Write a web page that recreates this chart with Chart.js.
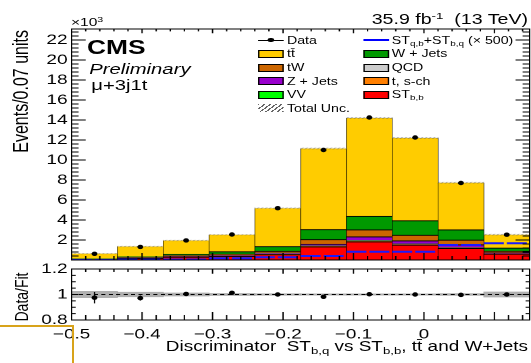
<!DOCTYPE html>
<html>
<head>
<meta charset="utf-8">
<script src="https://cdn.jsdelivr.net/npm/chart.js@4.4.1/dist/chart.umd.min.js"></script>
<style>
html, body { margin: 0; padding: 0; background: #fff; overflow: hidden; }
body { width: 531px; height: 363px; position: relative; font-family: "Liberation Sans", Arial, sans-serif; color: #000; }
/* the reference is stretched sideways, so the plot is drawn narrow and scaled */
#wrap { position: absolute; left: 0; top: 0; width: 393px; height: 363px; transform: scaleX(1.3511); transform-origin: 0 0; }
#top { position: absolute; left: 0; top: 0; }
#bot { position: absolute; left: 0; top: 262px; }
.t { position: absolute; white-space: nowrap; line-height: 1; }
.leg { position: absolute; font-size: 10.5px; line-height: 1; white-space: nowrap; }
.box { position: absolute; width: 17px; height: 6px; border: 1px solid #000; }
sub { font-size: 0.7em; vertical-align: -0.3em; line-height: 0; }
sup { font-size: 0.68em; vertical-align: 0.55em; line-height: 0; }
#gold { position: absolute; left: -3px; top: 325px; width: 73px; height: 45px; border: 2px solid #d8a31a; }
</style>
</head>
<body>
<div id="wrap">
  <canvas id="top" width="393" height="262"></canvas>
  <canvas id="bot" width="393" height="101"></canvas>

  <div class="t" style="left:52.5px; top:17px; font-size:11.5px;">×10<sup>3</sup></div>
  <div class="t" style="right:2.2px; top:11.5px; font-size:14.5px;">35.9 fb<sup>-1</sup>&nbsp; (13 TeV)</div>
  <div class="t" style="left:64.4px; top:37.5px; font-size:19.5px; font-weight:bold;">CMS</div>
  <div class="t" style="left:66px; top:60.6px; font-size:15px; font-style:italic;">Preliminary</div>
  <div class="t" style="left:67.5px; top:76.6px; font-size:15px;">μ+3j1t</div>

  <div class="t" style="left:-83.7px; top:122px; width:200px; height:16px; font-size:16px; text-align:right; transform:rotate(-90deg);">Events/0.07 units</div>
  <div class="t" style="left:-33.7px; top:290px; width:100px; height:14px; font-size:14px; text-align:center; transform:rotate(-90deg);">Data/Fit</div>
  <div class="t" style="right:2.2px; top:339.2px; font-size:14px;">Discriminator&nbsp; ST<sub>b,q</sub> vs ST<sub>b,b</sub>, tt&#772; and W+Jets</div>

  <!-- legend, first column -->
  <div style="position:absolute; left:191px; top:39.5px; width:19px; height:1px; background:#000;"></div>
  <div style="position:absolute; left:198.3px; top:37.8px; width:4.4px; height:4.4px; border-radius:50%; background:#000;"></div>
  <div class="leg" style="left:212.4px; top:34.9px;">Data</div>
  <div class="box" style="left:191px; top:49.5px; background:#ffcc00;"></div>
  <div class="leg" style="left:212.4px; top:48.4px;">tt&#772;</div>
  <div class="box" style="left:191px; top:63.5px; background:#cc6600;"></div>
  <div class="leg" style="left:212.4px; top:62.4px;">tW</div>
  <div class="box" style="left:191px; top:77px; background:#9900cc;"></div>
  <div class="leg" style="left:212.4px; top:75.9px;">Z + Jets</div>
  <div class="box" style="left:191px; top:90.5px; background:#00ff00;"></div>
  <div class="leg" style="left:212.4px; top:89.4px;">VV</div>
  <div style="position:absolute; left:191px; top:104px; width:19px; height:8px; background:repeating-linear-gradient(-45deg, #666 0 1px, transparent 1px 3px);"></div>
  <div class="leg" style="left:212.4px; top:102.9px;">Total Unc.</div>

  <!-- legend, second column -->
  <div style="position:absolute; left:268.5px; top:39px; width:19px; height:2px; background:#0000ff;"></div>
  <div class="leg" style="left:290px; top:34.9px;">ST<sub>q,b</sub>+ST<sub>b,q</sub> (× 500)</div>
  <div class="box" style="left:268.5px; top:49.5px; background:#009900;"></div>
  <div class="leg" style="left:290px; top:48.4px;">W + Jets</div>
  <div class="box" style="left:268.5px; top:63.5px; background:#cccccc;"></div>
  <div class="leg" style="left:290px; top:62.4px;">QCD</div>
  <div class="box" style="left:268.5px; top:77px; background:#ff7f00;"></div>
  <div class="leg" style="left:290px; top:75.9px;">t, s-ch</div>
  <div class="box" style="left:268.5px; top:90.5px; background:#ff0000;"></div>
  <div class="leg" style="left:290px; top:89.4px;">ST<sub>b,b</sub></div>
</div>
<div id="gold"></div>

<script>
'use strict';
// bins of the discriminator (centres) and their width
const binCenters = [-0.4675, -0.4025, -0.3375, -0.2725, -0.2075, -0.1425, -0.0775, -0.0125, 0.0525, 0.1175];
const binWidth = 0.065;

// stacked backgrounds, events per bin (bottom to top)
const stBB = [40, 170, 300, 380, 560, 1330, 1830, 1500, 1170, 600];
const tSch = [5, 10, 15, 20, 30, 50, 60, 50, 40, 20];
const qcd = [5, 10, 10, 15, 20, 30, 40, 30, 20, 10];
const vv = [2, 5, 5, 10, 10, 20, 25, 20, 15, 5];
const zJets = [10, 25, 40, 50, 90, 150, 380, 330, 280, 90];
const tW = [20, 50, 90, 120, 170, 470, 700, 560, 480, 150];
const wJets = [40, 60, 120, 250, 480, 1000, 1350, 1450, 1020, 330];
const ttbar = [518, 1020, 1370, 1675, 3820, 8100, 9815, 8260, 4695, 1325];

// data and signal (x 500)
const dataEvents = [620, 1310, 1960, 2550, 5180, 11000, 14250, 12250, 7700, 2530];
const signalX500 = [10, 40, 50, 170, 280, 400, 830, 830, 1500, 1670];

// ratio panel
const ratio = [0.975, 0.972, 1.004, 1.013, 1.0, 0.982, 1.002, 1.0, 0.997, 1.0];
const ratioErr = [0.045, 0.02, 0.015, 0.012, 0.008, 0.005, 0.005, 0.005, 0.006, 0.012];
const uncRel = [0.025, 0.018, 0.012, 0.008, 0.006, 0.005, 0.005, 0.005, 0.007, 0.02];

const binLabels = binCenters.map(String);
const components = [stBB, tSch, qcd, vv, zJets, tW, wJets, ttbar];
const total = binCenters.map((_, i) => components.reduce((s, c) => s + c[i], 0));

Chart.defaults.font.family = '"Liberation Sans", Arial, sans-serif';
Chart.defaults.font.size = 14;
Chart.defaults.color = '#000';

// hatch pattern for the uncertainty band
function hatch() {
  const c = document.createElement('canvas');
  c.width = 3; c.height = 3;
  const g = c.getContext('2d');
  g.strokeStyle = '#666';
  g.lineWidth = 0.8;
  g.beginPath();
  g.moveTo(0, 3); g.lineTo(3, 0);
  g.stroke();
  return g.createPattern(c, 'repeat');
}

// ROOT-like frame with inward ticks, reference line and error bars
function rootFrame(o) {
  return {
    id: 'rootFrame',
    afterDatasetsDraw(chart) {
      const { ctx, chartArea: a } = chart;
      const xs = chart.scales.xt;
      const ys = chart.scales.y;
      ctx.save();
      ctx.strokeStyle = '#000';
      ctx.lineWidth = 1;
      ctx.beginPath();
      const isMajor = (v, m) => Math.abs(v / m - Math.round(v / m)) < 1e-6;
      const ny = Math.round((ys.max - ys.min) / o.yMinor);
      for (let k = 0; k <= ny; k++) {
        const v = ys.min + k * o.yMinor;
        if (v > ys.max + 1e-9) break;
        const py = ys.getPixelForValue(v);
        const len = isMajor(v, o.yMajor) ? o.yLenMajor : o.yLenMinor;
        ctx.moveTo(a.left, py); ctx.lineTo(a.left + len, py);
        ctx.moveTo(a.right, py); ctx.lineTo(a.right - len, py);
      }
      const nx = Math.round((xs.max - xs.min) / o.xMinor);
      for (let k = 0; k <= nx; k++) {
        const v = xs.min + k * o.xMinor;
        if (v > xs.max + 1e-9) break;
        const px = xs.getPixelForValue(v);
        const len = isMajor(v, o.xMajor) ? o.xLenMajor : o.xLenMinor;
        ctx.moveTo(px, a.bottom); ctx.lineTo(px, a.bottom - len);
        ctx.moveTo(px, a.top); ctx.lineTo(px, a.top + len * 0.6);
      }
      ctx.stroke();
      ctx.strokeRect(a.left, a.top, a.right - a.left, a.bottom - a.top);
      if (o.refLine !== undefined) {
        const py = ys.getPixelForValue(o.refLine);
        ctx.setLineDash([3, 2.5]);
        ctx.beginPath();
        ctx.moveTo(a.left, py); ctx.lineTo(a.right, py);
        ctx.stroke();
        ctx.setLineDash([]);
      }
      chart.data.datasets.forEach((ds, i) => {
        if (!ds.errY) return;
        const meta = chart.getDatasetMeta(i);
        ctx.beginPath();
        meta.data.forEach((el, j) => {
          const y = ds.data[j].y;
          ctx.moveTo(el.x, ys.getPixelForValue(y - ds.errY[j]));
          ctx.lineTo(el.x, ys.getPixelForValue(y + ds.errY[j]));
        });
        ctx.stroke();
      });
      ctx.restore();
    }
  };
}

function fixY(width) {
  return s => { s.width = width; s.paddingTop = 0; s.paddingBottom = 0; };
}

function mcBar(values, color) {
  return {
    type: 'bar', data: values, backgroundColor: color, borderColor: '#000',
    borderWidth: { top: 1, left: 0.5, right: 0.5, bottom: 0 }, borderSkipped: 'start',
    stack: 'mc', order: 3, grouped: false, barPercentage: 1, categoryPercentage: 1,
  };
}

// signal histogram as separate horizontal segments, one per bin
const signalPoints = [];
binCenters.forEach((c, i) => {
  signalPoints.push({ x: c - binWidth / 2, y: signalX500[i] });
  signalPoints.push({ x: c + binWidth / 2, y: signalX500[i] });
  signalPoints.push({ x: c + binWidth / 2, y: null });
});

const ttbarBar = mcBar(ttbar, '#ffcc00');
ttbarBar.borderWidth = { top: 0, left: 0.5, right: 0.5, bottom: 0 };

new Chart(document.getElementById('top'), {
  type: 'bar',
  data: {
    labels: binLabels,
    datasets: [
      mcBar(stBB, '#ff0000'),
      mcBar(tSch, '#ff7f00'),
      mcBar(qcd, '#cccccc'),
      mcBar(vv, '#00ff00'),
      mcBar(zJets, '#9900cc'),
      mcBar(tW, '#cc6600'),
      mcBar(wJets, '#009900'),
      ttbarBar,
      {
        type: 'bar', xAxisID: 'xu', data: total.map((t, i) => [t * (1 - uncRel[i]), t * (1 + uncRel[i])]),
        backgroundColor: hatch(), borderWidth: 0, order: 2, grouped: false,
        barPercentage: 1, categoryPercentage: 1,
      },
      {
        type: 'line', xAxisID: 'xt', data: signalPoints, borderColor: '#1a1aff', borderWidth: 2,
        borderDash: [14.8, 2.2], pointRadius: 0, spanGaps: false, stack: 'sig', order: 1,
      },
      {
        type: 'line', xAxisID: 'xt', data: binCenters.map((c, i) => ({ x: c, y: dataEvents[i] })),
        showLine: false, pointRadius: 2.2, pointBorderWidth: 0,
        pointBackgroundColor: '#000', stack: 'data', order: 0,
      },
    ],
  },
  options: {
    responsive: false, animation: false, devicePixelRatio: 2,
    layout: { autoPadding: false, padding: { left: 0, right: 1, top: 29, bottom: 2 } },
    plugins: { legend: { display: false }, tooltip: { enabled: false } },
    scales: {
      x: { type: 'category', offset: true, display: false, stacked: true },
      xu: { type: 'category', offset: true, display: false },
      xt: { type: 'linear', min: -0.5, max: 0.15, offset: false, display: false },
      y: {
        type: 'linear', position: 'left', min: 0, max: 23100, stacked: true,
        grid: { display: false, drawTicks: false }, border: { display: false },
        ticks: {
          stepSize: 100, autoSkip: false, padding: 3,
          callback: v => {
            const k = Math.round(v / 1000);
            return (k > 0 && k % 2 === 0 && Math.abs(v - k * 1000) < 1) ? String(k) : '';
          },
        },
        afterFit: fixY(53),
      },
    },
  },
  plugins: [rootFrame({
    yMinor: 400, yMajor: 2000, yLenMinor: 5.2, yLenMajor: 10.4,
    xMinor: 0.02, xMajor: 0.1, xLenMinor: 4, xLenMajor: 7,
  })],
});

new Chart(document.getElementById('bot'), {
  type: 'bar',
  data: {
    labels: binLabels,
    datasets: [
      {
        type: 'line', xAxisID: 'xt', data: binCenters.map((c, i) => ({ x: c, y: ratio[i] })), errY: ratioErr,
        showLine: false, pointRadius: 2.2, pointBorderWidth: 0, pointBackgroundColor: '#000', order: 0,
      },
      {
        type: 'bar', data: uncRel.map(u => [1 - u, 1 + u]), backgroundColor: 'rgba(150,150,150,0.75)',
        borderWidth: 0, order: 2, grouped: false, barPercentage: 1, categoryPercentage: 1,
      },
    ],
  },
  options: {
    responsive: false, animation: false, devicePixelRatio: 2,
    layout: { autoPadding: false, padding: { left: 0, right: 1, top: 7, bottom: 0 } },
    plugins: { legend: { display: false }, tooltip: { enabled: false } },
    scales: {
      x: { type: 'category', offset: true, display: false },
      xt: {
        type: 'linear', position: 'bottom', min: -0.5, max: 0.15, offset: false,
        grid: { display: false, drawTicks: false }, border: { display: false },
        ticks: {
          stepSize: 0.1, autoSkip: false, maxRotation: 0, padding: 6,
          callback: v => {
            const r = Math.round(v * 10);
            if (Math.abs(v * 10 - r) > 1e-6) return '';
            return r === 0 ? '0' : (r / 10).toFixed(1).replace('-', '\u2212');
          },
        },
        afterFit: s => { s.height = 43; s.paddingLeft = 0; s.paddingRight = 0; },
      },
      y: {
        type: 'linear', min: 0.8, max: 1.2,
        grid: { display: false, drawTicks: false }, border: { display: false },
        ticks: {
          stepSize: 0.2, autoSkip: false, padding: 3,
          callback: v => Math.abs(v - 1) < 1e-6 ? '1' : v.toFixed(1),
        },
        afterFit: fixY(53),
      },
    },
  },
  plugins: [rootFrame({
    yMinor: 0.05, yMajor: 0.2, yLenMinor: 3, yLenMajor: 5.2,
    xMinor: 0.02, xMajor: 0.1, xLenMinor: 5, xLenMajor: 8, refLine: 1,
  })],
});
</script>
</body>
</html>
